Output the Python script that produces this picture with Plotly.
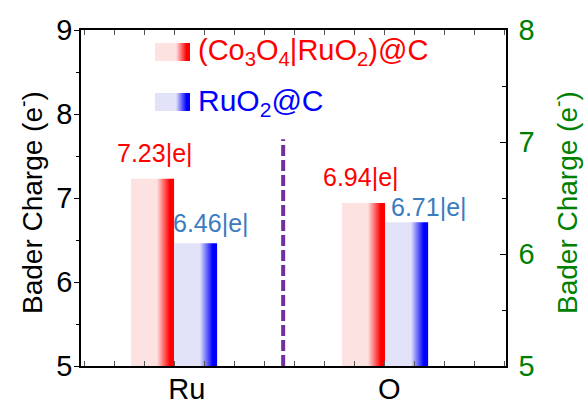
import plotly.graph_objects as go

# ---------------- data ----------------
categories = ["Ru", "O"]
series_names = ["(Co<sub>3</sub>O<sub>4</sub>|RuO<sub>2</sub>)@C", "RuO<sub>2</sub>@C"]
composite_values = [7.23, 6.94]   # (Co3O4|RuO2)@C
ruo2_values = [6.46, 6.71]        # RuO2@C
composite_labels = ["7.23|e|", "6.94|e|"]
ruo2_labels = ["6.46|e|", "6.71|e|"]
left_ticks = [5, 6, 7, 8, 9]
right_ticks = [5, 6, 7, 8]
divider_top = 7.7

# ---------------- layout constants ----------------
W, H = 584, 408
L, R, T, B = 81, 78, 30, 42
Y_RANGE = [5, 9]
Y2_RANGE = [5, 8]
X_RANGE = [0.559, 2.573]
BAR_W = 0.204

PLOT_W = W - L - R
PLOT_H = H - T - B

def px_x(px):
    return X_RANGE[0] + (px - L) / PLOT_W * (X_RANGE[1] - X_RANGE[0])

def px_y(py):
    return Y_RANGE[1] - (py - T) / PLOT_H * (Y_RANGE[1] - Y_RANGE[0])

def paper_x(px):
    return (px - L) / PLOT_W

def paper_y(py):
    return 1 - (py - T) / PLOT_H

RED_LIGHT = "#FDE2E2"
BLUE_LIGHT = "#E2E2F9"
RED = "#FF0000"
BLUE = "#0000FF"
BLUE_TEXT = "#3B7BC0"
GREEN = "#008000"
FONT = "Liberation Sans, Arial, sans-serif"

def grad(light, dark):
    return [[0, light], [0.6, light], [0.9, dark], [1, dark]]

fig = go.Figure()

def add_rect(x0, x1, y0, y1, light, dark):
    fig.add_trace(go.Scatter(
        x=[x0, x0, x1, x1, x0], y=[y0, y1, y1, y0, y0],
        mode="lines", line=dict(width=0), fill="toself",
        fillgradient=dict(type="horizontal", colorscale=grad(light, dark)),
        hoverinfo="skip", showlegend=False, xaxis="x", yaxis="y",
    ))

for i, cat in enumerate(categories):
    xc = i + 1
    add_rect(xc - BAR_W, xc, Y_RANGE[0], composite_values[i], RED_LIGHT, RED)
    add_rect(xc, xc + BAR_W, Y_RANGE[0], ruo2_values[i], BLUE_LIGHT, BLUE)

# invisible trace on right axis so it renders
fig.add_trace(go.Scatter(x=[X_RANGE[0]], y=[Y2_RANGE[0]], mode="markers",
                         marker=dict(opacity=0), yaxis="y2", showlegend=False,
                         hoverinfo="skip"))

# legend swatches (manual)
add_rect(px_x(155), px_x(190), px_y(61), px_y(43), RED_LIGHT, RED)
add_rect(px_x(155), px_x(190), px_y(111), px_y(93), BLUE_LIGHT, BLUE)

annotations = []
annotations.append(dict(x=px_x(196), y=px_y(52), xref="x", yref="y",
                        text=series_names[0], showarrow=False, xanchor="left",
                        yanchor="middle", font=dict(family=FONT, size=29, color=RED)))
annotations.append(dict(x=px_x(196), y=px_y(102), xref="x", yref="y",
                        text=series_names[1], showarrow=False, xanchor="left",
                        yanchor="middle", font=dict(family=FONT, size=30, color=BLUE)))

# value labels
comp_shift = [(2, 26), (-3, 26)]
ruo2_shift = [(15, 20), (22, 15)]
for i in range(len(categories)):
    xc = i + 1
    annotations.append(dict(x=xc - BAR_W / 2, y=composite_values[i], xref="x", yref="y",
                            text=composite_labels[i], showarrow=False,
                            xshift=comp_shift[i][0], yshift=comp_shift[i][1],
                            font=dict(family=FONT, size=25, color=RED)))
    annotations.append(dict(x=xc + BAR_W / 2, y=ruo2_values[i], xref="x", yref="y",
                            text=ruo2_labels[i], showarrow=False,
                            xshift=ruo2_shift[i][0], yshift=ruo2_shift[i][1],
                            font=dict(family=FONT, size=25, color=BLUE_TEXT)))

# axis titles
annotations.append(dict(x=paper_x(30), y=paper_y(203), xref="paper", yref="paper",
                        text="Bader Charge (e<sup>-</sup>)", textangle=-90, showarrow=False,
                        font=dict(family=FONT, size=28, color="black"),
                        xanchor="center", yanchor="middle"))
annotations.append(dict(x=paper_x(565), y=paper_y(203), xref="paper", yref="paper",
                        text="Bader Charge (e<sup>-</sup>)", textangle=-90, showarrow=False,
                        font=dict(family=FONT, size=28, color=GREEN),
                        xanchor="center", yanchor="middle"))

shapes = [dict(type="line", xref="x", yref="y", x0=1.517, x1=1.517,
               y0=Y_RANGE[0], y1=divider_top,
               line=dict(color="#7030A0", width=4, dash="11px,4px"))]

fig.update_layout(
    width=W, height=H,
    margin=dict(l=L, r=R, t=T, b=B, pad=0, autoexpand=False),
    paper_bgcolor="white", plot_bgcolor="white",
    font=dict(family=FONT, color="black"),
    showlegend=False,
    annotations=annotations, shapes=shapes,
    xaxis=dict(range=X_RANGE, tickmode="array", tickvals=[1.06, 2.02], ticktext=categories,
               ticks="", showgrid=False, zeroline=False, automargin=False,
               ticklabelstandoff=-4,
               showline=True, linecolor="black", linewidth=1.5, mirror="ticks",
               tickfont=dict(family=FONT, size=29, color="black"),
               minor=dict(ticks="inside", tick0=1, dtick=30 / 211, ticklen=5,
                          tickcolor="#555", tickwidth=1, showgrid=False)),
    yaxis=dict(range=Y_RANGE, tickvals=left_ticks, ticks="outside", ticklen=5,
               tickwidth=1.2, tickcolor="black", showgrid=False, zeroline=False,
               showline=True, linecolor="black", linewidth=1.5, automargin=False,
               ticklabelstandoff=-4,
               tickfont=dict(family=FONT, size=29, color="black"),
               minor=dict(ticks="outside", dtick=0.5, ticklen=3, tickcolor="black",
                          showgrid=False)),
    yaxis2=dict(range=Y2_RANGE, tickvals=right_ticks, overlaying="y", side="right",
                ticks="inside", ticklen=6, tickwidth=1.2, tickcolor="black",
                showgrid=False, zeroline=False, automargin=False,
                showline=True, linecolor="black", linewidth=1.5,
                ticklabelstandoff=5,
                tickfont=dict(family=FONT, size=29, color=GREEN),
                minor=dict(ticks="inside", dtick=0.5, ticklen=4, tickcolor="black",
                           showgrid=False)),
)

fig.write_html("out.html")
